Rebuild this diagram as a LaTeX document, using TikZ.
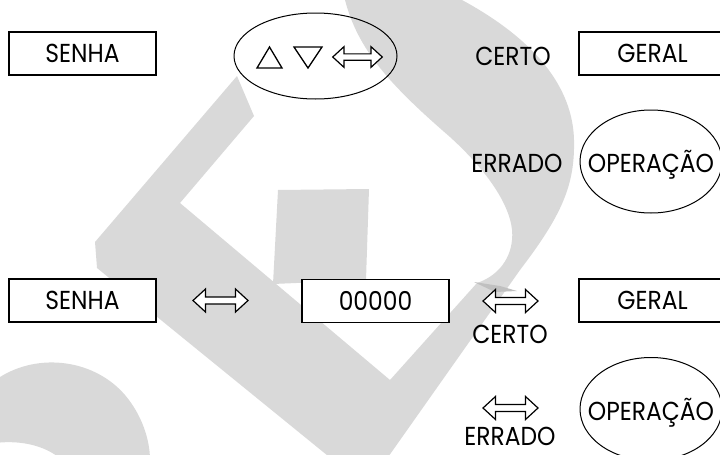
\documentclass[tikz,border=0pt]{standalone}
\usepackage{fontspec}
\setmainfont{Poppins}[FakeStretch=0.9]
\usetikzlibrary{shapes.geometric}
\definecolor{wmgray}{RGB}{217,217,217}
\definecolor{wmdark}{RGB}{192,192,192}

\begin{document}
\begin{tikzpicture}[x=1pt, y=-1pt,
        word/.style={inner sep=0pt, text height=18pt, text depth=0pt, font=\fontsize{26}{28}\selectfont},
        box/.style={word, draw, fill=white, line width=1.3pt, minimum width=147pt, minimum height=43pt},
        oval/.style={draw, ellipse, line width=1pt, inner sep=0pt},
        dbl/.pic={\draw[fill=white, line width=1.2pt] (-27.5,0) -- (-15,-11.5) -- (-15,-3.5) -- (15,-3.5) -- (15,-11.5) -- (27.5,0) -- (15,11.5) -- (15,3.5) -- (-15,3.5) -- (-15,11.5) -- cycle;}]
        \useasboundingbox (0,0) rectangle (720,455);
        \begin{scope}
            \clip (0,0) rectangle (720,455);
            \fill[wmgray] (343,-10) -- (345,0) .. controls (358,50) and (390,85) .. (450,137)
                .. controls (495,178) and (515,215) .. (512,240) .. controls (510,262) and (495,277) .. (477,283)
                -- (390,380) -- (180,203) -- (254,116) -- (237,76) -- (95,242) -- (97,268) -- (333,460)
                -- (386,460) -- (520,270) .. controls (562,215) and (575,185) .. (574,140)
                .. controls (573,95) and (545,45) .. (462,0) -- (444,-10) -- cycle;
            \fill[wmgray] (278,190) -- (369,189) -- (366,280) -- (273,284) -- cycle;
            \fill[wmgray] (-5,377) -- (0,377) .. controls (40,352) and (95,360) .. (125,395)
                .. controls (142,415) and (150,440) .. (150,460) -- (62,460)
                .. controls (45,445) and (20,440) .. (-5,443) -- cycle;
            \fill[wmdark] (474,282) -- (500,286) -- (517,291) -- (495,292) -- cycle;
        \end{scope}
        % upper row
        \node[box] (senhaA) at (82.5,53.5) {SENHA};
        \node[oval, minimum width=163pt, minimum height=86pt] (keys) at (315.5,56) {};
        \draw[line width=1.3pt, line join=miter] (257,68) -- (282,68) -- (269.5,47) -- cycle;
        \draw[line width=1.3pt, line join=miter] (294,47) -- (322,47) -- (308,68) -- cycle;
        \pic (arrKeys) at (357.5,57) [scale=0.9] {dbl};
        \node[word] (certoA) at (513,56) {CERTO};
        \node[box] (geralA) at (652.5,53.5) {GERAL};
        \node[word] (erradoA) at (517,163) {ERRADO};
        \node[oval, minimum width=142pt, minimum height=103pt] (operA) at (651,161.5) {};
        \node[word] (operAtxt) at (651,163) {OPERAÇÃO};
        % lower row
        \node[box] (senhaB) at (82.5,300.5) {SENHA};
        \pic (arrA) at (220.5,300.5) {dbl};
        \node[box] (zeros) at (375.5,301) {00000};
        \pic (arrB) at (510.5,301) {dbl};
        \node[word] (certoB) at (510,334) {CERTO};
        \node[box] (geralB) at (652.5,300.5) {GERAL};
        \pic (arrC) at (510.5,408) {dbl};
        \node[word] (erradoB) at (510,436) {ERRADO};
        \node[oval, minimum width=142pt, minimum height=103pt] (operB) at (651,409) {};
        \node[word] (operBtxt) at (651,411) {OPERAÇÃO};
\end{tikzpicture}
\end{document}
